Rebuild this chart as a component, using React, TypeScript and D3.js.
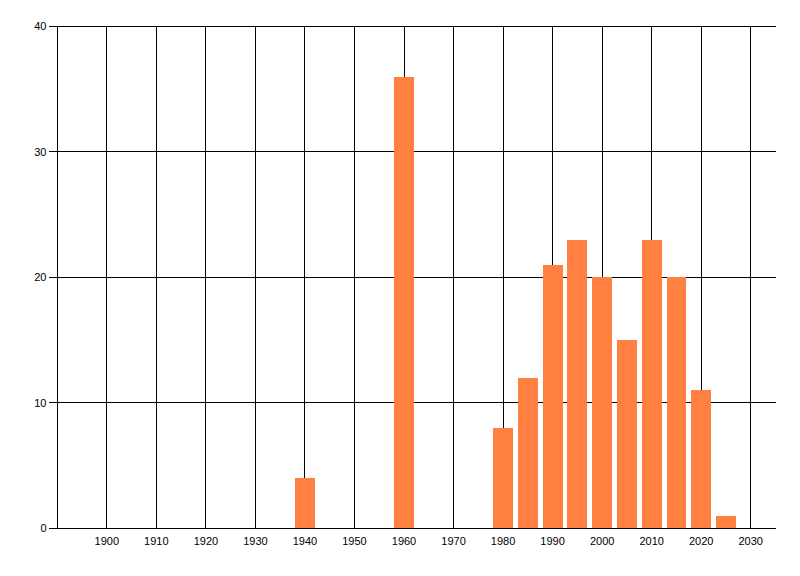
import React from "react";
import * as d3 from "d3";

const years = [1940, 1960, 1980, 1985, 1990, 1995, 2000, 2005, 2010, 2015, 2020, 2025];
const counts = [4, 36, 8, 12, 21, 23, 20, 15, 23, 20, 11, 1];
const xTicks = [1900, 1910, 1920, 1930, 1940, 1950, 1960, 1970, 1980, 1990, 2000, 2010, 2020, 2030];
const yTicks = [0, 10, 20, 30, 40];

const W = 800;
const H = 576;
const left = 57.3;
const right = 775.5;
const top = 26.3;
const bottom = 528.3;

export default function App() {
  const x = d3.scaleLinear().domain([1890, 2035]).range([left, right]);
  const y = d3.scaleLinear().domain([0, 40]).range([bottom, top]);
  const barW = x(1894) - x(1890);
  const font = "'Liberation Sans', Arial, sans-serif";
  const px = (v: number) => Math.floor(v) + 0.5;
  return (
    <svg width={W} height={H} style={{ position: "absolute", left: 0, top: 0, background: "#fff" }}>
      <g shapeRendering="crispEdges">
        {xTicks.map((t) => (
          <line key={"gx" + t} x1={px(x(t))} x2={px(x(t))} y1={px(top)} y2={px(bottom)} stroke="#000" strokeWidth={1} />
        ))}
        <line x1={px(left)} x2={px(left)} y1={px(top)} y2={px(bottom)} stroke="#000" strokeWidth={1} />
        {yTicks.map((t) => (
          <line key={"gy" + t} x1={49} x2={right} y1={px(y(t))} y2={px(y(t))} stroke="#000" strokeWidth={1} />
        ))}
        {years.map((yr, i) => (
          <rect
            key={"b" + yr}
            x={x(yr) - barW / 2}
            y={y(counts[i])}
            width={barW}
            height={y(0) - y(counts[i])}
            fill="#FF8040"
          />
        ))}
        <line x1={px(left)} x2={right} y1={px(y(0))} y2={px(y(0))} stroke="#000" strokeWidth={1} />
      </g>
      {yTicks.map((t) => (
        <text key={"ly" + t} x={46.5} y={y(t)} dy="0.35em" textAnchor="end" fontFamily={font} fontSize={11} fill="#000">
          {t}
        </text>
      ))}
      {xTicks.map((t) => (
        <text key={"lx" + t} x={x(t)} y={545} textAnchor="middle" fontFamily={font} fontSize={11} fill="#000">
          {t}
        </text>
      ))}
    </svg>
  );
}
